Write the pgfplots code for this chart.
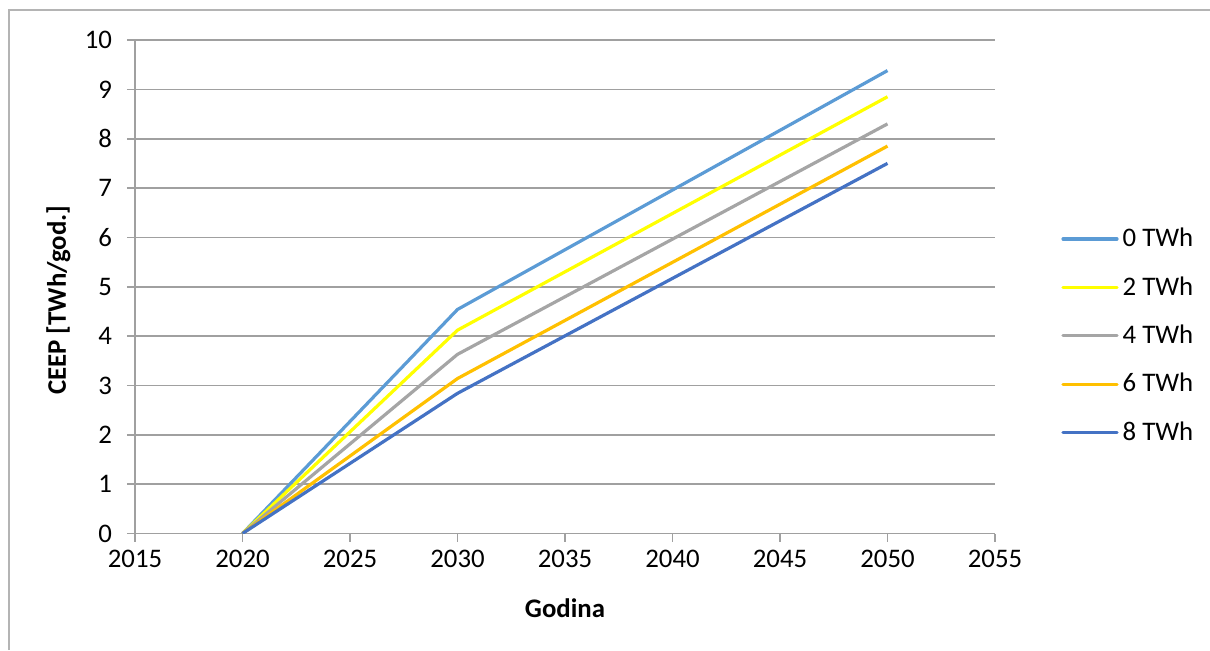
\documentclass[border=0pt]{standalone}
\usepackage{pgfplots}
\pgfplotsset{compat=1.18}
\usepackage{fontspec}
\setmainfont{Carlito}
\definecolor{c0}{HTML}{5B9BD5}
\definecolor{c2}{HTML}{FFFF00}
\definecolor{c4}{HTML}{A5A5A5}
\definecolor{c6}{HTML}{FFC000}
\definecolor{c8}{HTML}{4472C4}
\definecolor{gridc}{HTML}{A0A0A0}
\definecolor{framec}{HTML}{B4B4B4}
\begin{document}
\begin{tikzpicture}[x=1pt,y=1pt]
\useasboundingbox (-67.5,-58.25) rectangle (537.5,266.75);
\draw[framec, line width=0.8pt] (-63,-58.25) -- (-63,261.75) -- (537.5,261.75);
\begin{axis}[
  scale only axis,
  width=430pt, height=246.75pt,
  xmin=2015, xmax=2055, ymin=0, ymax=10,
  xtick={2015,2020,...,2055},
  ytick={0,1,...,10},
  axis x line*=bottom, axis y line*=left,
  axis line style={gridc, line width=0.8pt},
  tick style={gridc, line width=0.8pt},
  tick align=outside, major tick length=4pt,
  ymajorgrids, grid style={gridc, line width=0.8pt},
  font=\fontsize{13.4}{15}\selectfont,
  /pgf/number format/assume math mode=true,
  /pgf/number format/1000 sep={},
  xticklabel style={yshift=-1pt},
  yticklabel style={xshift=-4pt},
  xlabel={\textbf{Godina}},
  ylabel={\textbf{CEEP [TWh/god.]}},
  xlabel style={at={(axis description cs:0.5,0)}, anchor=center, yshift=-37.5pt},
  ylabel style={at={(axis description cs:-0.089,0.473)}, anchor=center},
  legend style={at={(axis description cs:1,0.5)}, anchor=west, xshift=33pt, yshift=-24.5pt,
    draw=none, fill=none, font=\fontsize{13.4}{15}\selectfont,
    row sep=9.4pt, inner sep=0pt, /tikz/every even column/.append style={column sep=2pt}},
  legend cell align=left,
  legend image code/.code={\draw[#1, line cap=round] (0pt,0pt) -- (27pt,0pt);},
  every axis plot/.append style={line width=1.6pt, line join=round},
]
\addplot[c0] coordinates {(2020,0) (2030,4.54) (2050,9.38)};
\addplot[c2] coordinates {(2020,0) (2030,4.12) (2050,8.85)};
\addplot[c4] coordinates {(2020,0) (2030,3.63) (2050,8.30)};
\addplot[c6] coordinates {(2020,0) (2030,3.14) (2050,7.85)};
\addplot[c8] coordinates {(2020,0) (2030,2.84) (2050,7.50)};
\legend{0 TWh,2 TWh,4 TWh,6 TWh,8 TWh}
\end{axis}
\end{tikzpicture}
\end{document}
